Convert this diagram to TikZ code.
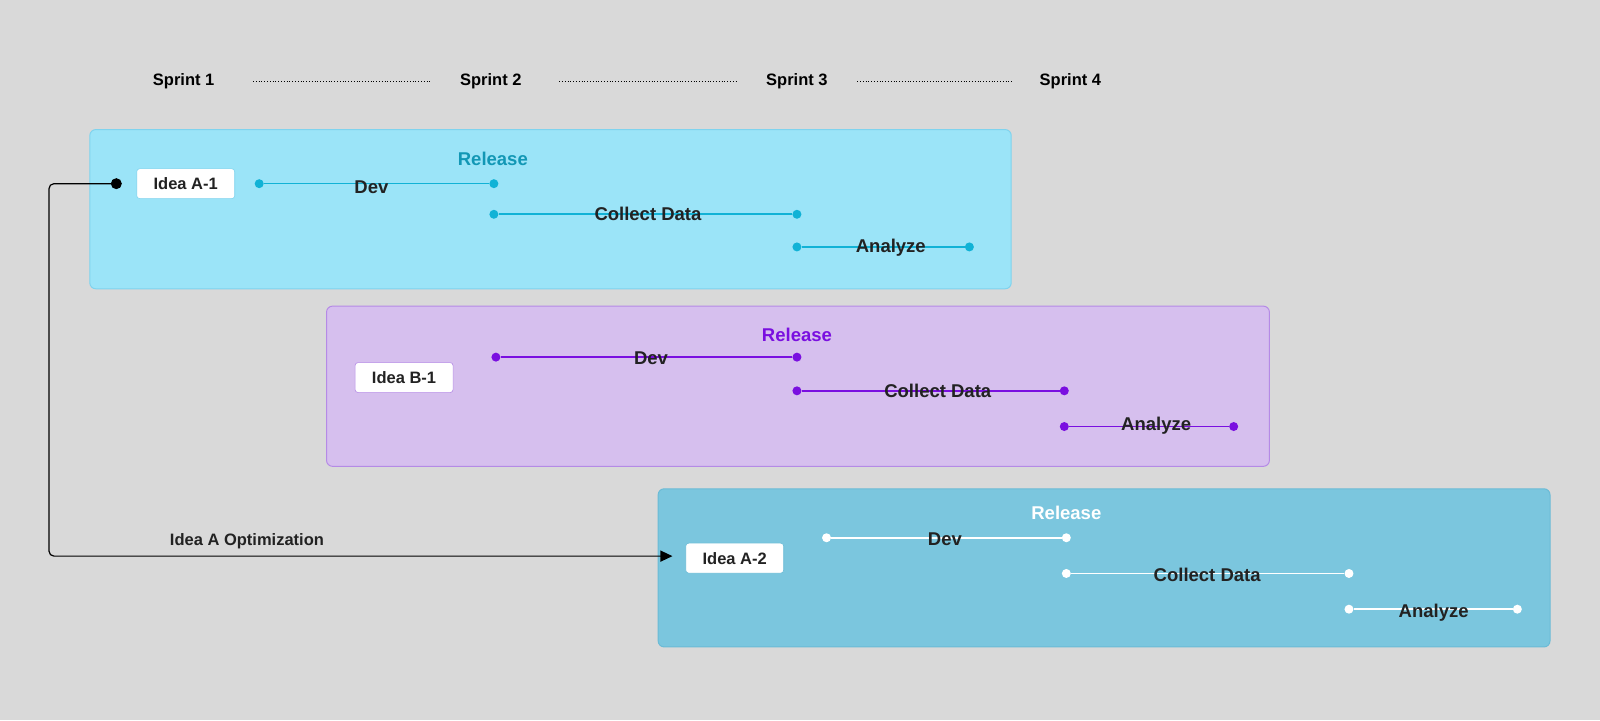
\documentclass[tikz,border=0pt]{standalone}
\usepackage{fontspec}
\setmainfont{Liberation Sans}
\usetikzlibrary{arrows.meta}
\definecolor{bg}{HTML}{D9D9D9}
\definecolor{afill}{HTML}{9BE4F8}\definecolor{aedge}{HTML}{7FD3EE}\definecolor{aline}{HTML}{11B2D6}\definecolor{arel}{HTML}{1297B5}
\definecolor{bfill}{HTML}{D6BFEE}\definecolor{bedge}{HTML}{B58AE6}\definecolor{bline}{HTML}{7A0FE0}
\definecolor{cfill}{HTML}{7BC6DE}\definecolor{cedge}{HTML}{6BBBD6}
\definecolor{txt}{HTML}{222222}
\tikzset{
 lbl/.style={font=\bfseries\fontsize{18.5}{21}\selectfont,text=txt,inner sep=1pt},
 sprint/.style={font=\bfseries\fontsize{16.5}{19}\selectfont,text=black},
 panel/.style={rounded corners=6pt,line width=1pt},
 idea/.style={draw,fill=white,rounded corners=3pt,minimum width=98pt,minimum height=30pt,font=\bfseries\fontsize{16.5}{19}\selectfont,text=txt,line width=0.6pt},
 dotn/.style={circle,inner sep=0pt,minimum size=9pt},
 track/.style={line width=1.6pt}
}
\begin{document}
\begin{tikzpicture}[x=1.0204pt,y=-1.0204pt]
\fill[bg] (0,0) rectangle (1568,706);
\useasboundingbox (0,0) rectangle (1568,706);
% sprints
\node[sprint] (s1) at (180,80) {Sprint 1};
\node[sprint] (s2) at (481,80) {Sprint 2};
\node[sprint] (s3) at (781,80) {Sprint 3};
\node[sprint] (s4) at (1049,80) {Sprint 4};
\draw[dotted,line width=0.8pt] (248,80) -- (422,80);
\draw[dotted,line width=0.8pt] (548,80) -- (722,80);
\draw[dotted,line width=0.8pt] (840,80) -- (993,80);
% panels
\draw[panel,fill=afill,draw=aedge] (88,127) rectangle (991,283);
\draw[panel,fill=bfill,draw=bedge] (320,300) rectangle (1244,457);
\draw[panel,fill=cfill,draw=cedge] (645,479) rectangle (1519,634);
% Idea A
\node[idea,draw=aedge] (ia1) at (182,180) {Idea A-1};
\node[dotn,fill=aline] (a1) at (254,180) {};
\node[dotn,fill=aline] (a2) at (484,180) {};
\node[dotn,fill=aline] (a3) at (484,210) {};
\node[dotn,fill=aline] (a4) at (781,210) {};
\node[dotn,fill=aline] (a5) at (781,242) {};
\node[dotn,fill=aline] (a6) at (950,242) {};
\draw[track,aline] (a1) -- (a2); \draw[track,aline] (a3) -- (a4); \draw[track,aline] (a5) -- (a6);
\node[lbl] at (364,183) {Dev};
\node[lbl] at (635,210) {Collect Data};
\node[lbl] at (873,243) {Analyze};
\node[lbl,text=arel] at (483,156) {Release};
% Idea B
\node[idea,draw=bedge] (ib1) at (396,370) {Idea B-1};
\node[dotn,fill=bline] (b1) at (486,350) {};
\node[dotn,fill=bline] (b2) at (781,350) {};
\node[dotn,fill=bline] (b3) at (781,383) {};
\node[dotn,fill=bline] (b4) at (1043,383) {};
\node[dotn,fill=bline] (b5) at (1043,418) {};
\node[dotn,fill=bline] (b6) at (1209,418) {};
\draw[track,bline] (b1) -- (b2); \draw[track,bline] (b3) -- (b4); \draw[track,bline] (b5) -- (b6);
\node[lbl] at (638,351) {Dev};
\node[lbl] at (919,383) {Collect Data};
\node[lbl] at (1133,417) {Analyze};
\node[lbl,text=bline] at (781,328) {Release};
% Idea A-2
\node[idea,draw=cedge] (ia2) at (720,547) {Idea A-2};
\node[dotn,fill=white] (c1) at (810,527) {};
\node[dotn,fill=white] (c2) at (1045,527) {};
\node[dotn,fill=white] (c3) at (1045,562) {};
\node[dotn,fill=white] (c4) at (1322,562) {};
\node[dotn,fill=white] (c5) at (1322,597) {};
\node[dotn,fill=white] (c6) at (1487,597) {};
\draw[track,white] (c1) -- (c2); \draw[track,white] (c3) -- (c4); \draw[track,white] (c5) -- (c6);
\node[lbl] at (926,528) {Dev};
\node[lbl] at (1183,563) {Collect Data};
\node[lbl] at (1405,600) {Analyze};
\node[lbl,text=white] at (1045,503) {Release};
% optimization connector
\node[dotn,fill=black,minimum size=11pt] (k) at (114,180) {};
\coordinate (arr) at (659,545);
\draw[line width=1.2pt,rounded corners=5pt,-{Triangle[length=12pt,width=11pt]}] (k.center) -- (48,180) -- (48,545) -- (arr);
\node[sprint,text=txt] (opt) at (242,530) {Idea A Optimization};
\end{tikzpicture}
\end{document}
